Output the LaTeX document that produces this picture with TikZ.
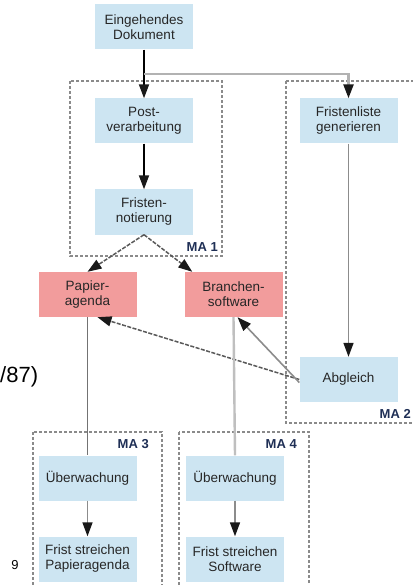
\documentclass[tikz,border=0pt]{standalone}
\usepackage{fontspec}
\setmainfont{Liberation Sans}
\usetikzlibrary{arrows.meta}
\definecolor{boxblue}{HTML}{CDE5F2}
\definecolor{boxred}{HTML}{F29C9C}
\definecolor{frame}{HTML}{8A8A8A}
\definecolor{malabel}{HTML}{1F2F55}
\tikzset{
  task/.style={fill=boxblue, minimum width=98pt, minimum height=45pt, inner sep=0pt,
    align=center, font=\fontsize{13.5}{15}\selectfont, text=black!85},
  medium/.style={task, fill=boxred},
  group/.style={draw=frame, line width=1.6pt, dash pattern=on 3pt off 2pt},
  grouplabel/.style={font=\fontsize{13}{13}\selectfont\bfseries, text=malabel, inner sep=0pt},
  tip/.style={-{Triangle[length=14pt,width=10pt,color=black!90]}},
  flow/.style={tip, line width=1.8pt, black},
  link/.style={tip, line width=1.5pt, draw=black!65, dash pattern=on 4pt off 1.5pt},
  feed/.style={tip, line width=1.6pt, draw=black!45},
  lane/.style={line width=1.8pt}
}
\begin{document}
\begin{tikzpicture}[x=1pt, y=-1pt]
  \useasboundingbox (0,0) rectangle (412,585);
  \fill[white] (0,0) rectangle (412,585);

  % work groups
  \draw[group] (70,81) rectangle (222,256);
  \node[grouplabel, anchor=south east] (ma1) at (218,252) {MA 1};
  \draw[group] (286,81) rectangle (418,423);
  \node[grouplabel, anchor=south east] (ma2) at (411,419) {MA 2};
  \draw[group] (33,432) rectangle (162,590);
  \node[grouplabel, anchor=north east] (ma3) at (149,439) {MA 3};
  \draw[group] (179,432) rectangle (309,590);
  \node[grouplabel, anchor=north east] (ma4) at (297,439) {MA 4};

  % process steps
  \node[task] (doc) at (144,27) {Eingehendes\\Dokument};
  \node[task] (post) at (144,121) {Post-\\verarbeitung};
  \node[task] (note) at (144,212) {Fristen-\\notierung};
  \node[task] (list) at (348.5,121) {Fristenliste\\generieren};
  \node[medium] (paper) at (87.5,294.5) {Papier-\\agenda};
  \node[medium] (soft) at (233.5,294.5) {Branchen-\\software};
  \node[task] (match) at (348.5,379.5) {Abgleich};
  \node[task] (watch3) at (87.5,478) {Überwachung};
  \node[task] (del3) at (87.5,559) {Frist streichen\\Papieragenda};
  \node[task] (watch4) at (235,478) {Überwachung};
  \node[task] (del4) at (235,559) {Frist streichen\\Software};

  % margin text
  \node[anchor=west, inner sep=0pt, font=\fontsize{22}{22}\selectfont] (ref) at (0,377) {/87)};
  \node[inner sep=0pt, font=\fontsize{13}{13}\selectfont] (pg) at (15,565) {9};

  % connectors
  \coordinate (split) at (144,74);
  \draw[flow] (doc) -- (post);
  \draw[flow] (post) -- (note);
  \draw[tip, line width=2.4pt, draw=black!30] (split) -| (list.north);
  \draw[feed] (list) -- (match);
  \draw[link] (note.south) -- (paper.north);
  \draw[link] (note.south) -- ([xshift=8pt]soft.north west |- soft.north) ;
  \draw[link] (match.west) -- ([xshift=10pt]paper.south);
  \draw[feed] ([yshift=-3pt]match.west) -- ([xshift=4pt]soft.south);
  \draw[lane, draw=black!55] (paper.south) -- (watch3.north);
  \draw[lane, line width=2.4pt, draw=black!25] (soft.south) -- (watch4.north);
  \draw[feed] (watch3) -- (del3);
  \draw[feed] (watch4) -- (del4);
\end{tikzpicture}
\end{document}
